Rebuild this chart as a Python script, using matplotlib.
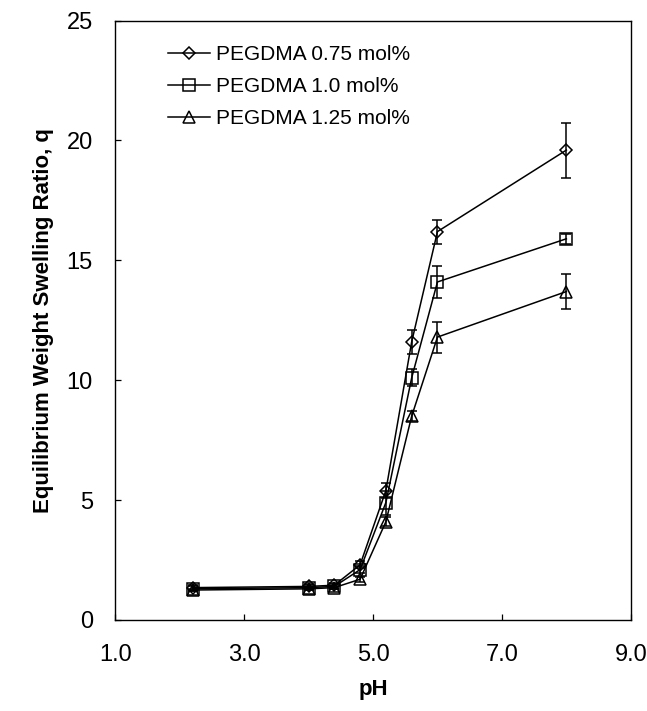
"""Equilibrium weight swelling ratio vs pH for three PEGDMA crosslinker levels."""

import matplotlib

matplotlib.use("Agg")

import matplotlib.pyplot as plt  # noqa: E402
from matplotlib.ticker import FormatStrFormatter  # noqa: E402

plt.rcParams["font.family"] = ["Liberation Sans", "DejaVu Sans"]

ph = [2.2, 4.0, 4.4, 4.8, 5.2, 5.6, 6.0, 8.0]

q_075 = [1.35, 1.4, 1.45, 2.3, 5.4, 11.6, 16.2, 19.6]
err_075 = [0.1, 0.1, 0.1, 0.15, 0.3, 0.5, 0.5, 1.15]

q_100 = [1.3, 1.35, 1.4, 2.1, 4.9, 10.1, 14.1, 15.9]
err_100 = [0.1, 0.1, 0.1, 0.15, 0.5, 0.35, 0.65, 0.2]

q_125 = [1.25, 1.3, 1.35, 1.7, 4.1, 8.5, 11.8, 13.7]
err_125 = [0.05, 0.05, 0.05, 0.1, 0.2, 0.2, 0.65, 0.73]

labels = ["PEGDMA 0.75 mol%", "PEGDMA 1.0 mol%", "PEGDMA 1.25 mol%"]
markers = ["D", "s", "^"]
marker_sizes = [6.4, 8, 8.5]

x_ticks = [1.0, 3.0, 5.0, 7.0, 9.0]
y_ticks = [0, 5, 10, 15, 20, 25]

fig = plt.figure(figsize=(6.47, 7.11), dpi=100)
ax = fig.add_axes([0.178, 0.128, 0.797, 0.843])

series = [(q_075, err_075), (q_100, err_100), (q_125, err_125)]
for (q, err), label, marker, ms in zip(series, labels, markers, marker_sizes):
    ax.errorbar(
        ph, q, yerr=err,
        color="black", lw=1.1, elinewidth=1.1,
        marker=marker, ms=ms,
        mfc="none", mec="black", mew=1.1,
        capsize=3.6, capthick=1.1,
        label=label,
    )

ax.set_xlim(1.0, 9.0)
ax.set_ylim(0, 25)
ax.set_xticks(x_ticks)
ax.set_yticks(y_ticks)
ax.xaxis.set_major_formatter(FormatStrFormatter("%.1f"))
ax.tick_params(direction="in", length=4, width=0.9, labelsize=17, top=False, right=False)
ax.tick_params(axis="x", pad=17)
ax.tick_params(axis="y", pad=16)
for spine in ax.spines.values():
    spine.set_linewidth(1.0)

ax.set_xlabel("pH", fontsize=16, fontweight="bold", labelpad=10)
ax.set_ylabel("Equilibrium Weight Swelling Ratio, q", fontsize=16, fontweight="bold", labelpad=9)

handles, leg_labels = ax.get_legend_handles_labels()
handles = [h[0] for h in handles]
ax.legend(
    handles, leg_labels,
    loc="upper left", bbox_to_anchor=(0.075, 0.983),
    frameon=False, fontsize=15, handlelength=2.0, handletextpad=0.3,
    labelspacing=0.62, borderaxespad=0.3,
)

fig.savefig("out.png", dpi=100)
plt.close(fig)
